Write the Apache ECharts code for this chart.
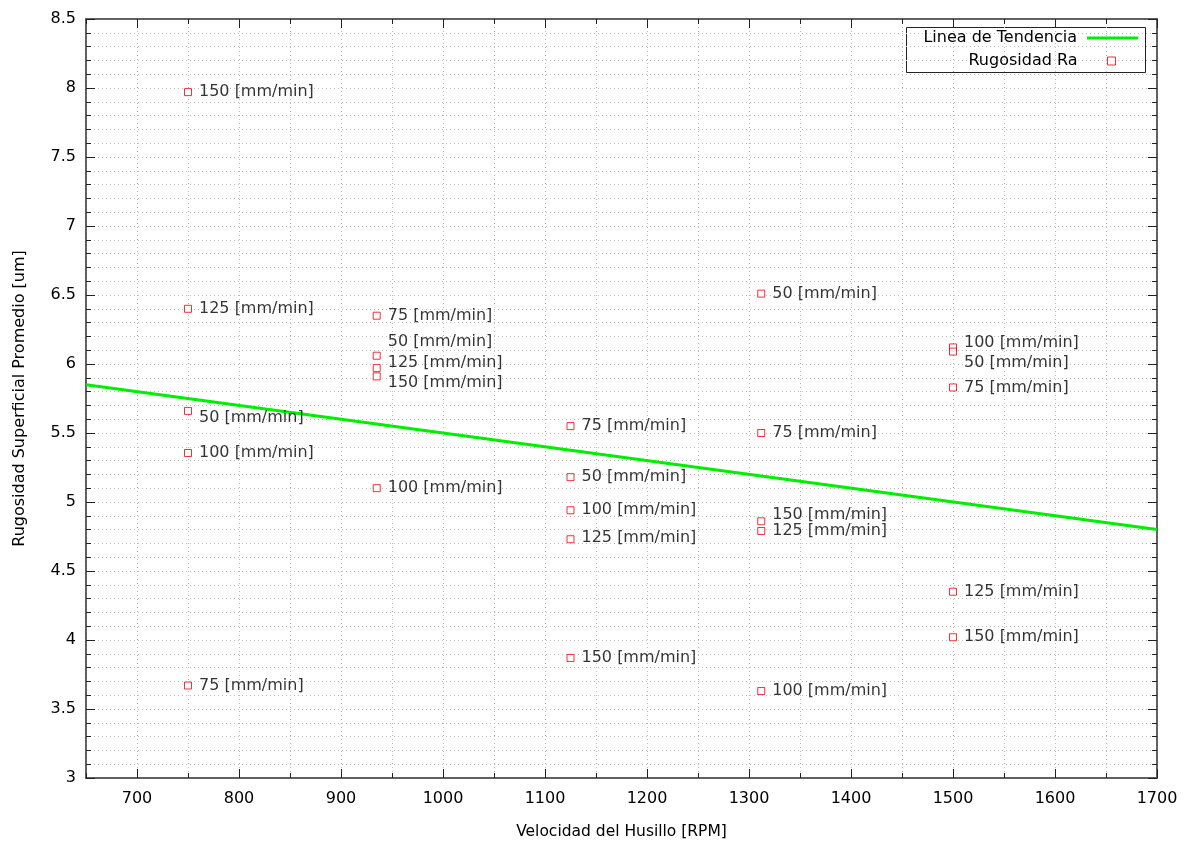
<!DOCTYPE html>
<html>
<head>
<meta charset="utf-8">
<script src="https://cdn.jsdelivr.net/npm/echarts@6/dist/echarts.min.js"></script>
<style>
  html, body { margin: 0; padding: 0; background: #fff; }
  #chart { width: 1189px; height: 843px; }
</style>
</head>
<body>
<div id="chart"></div>
<script>
// Spindle speed [RPM] for each measured specimen
const speedRpm = [
  750, 750, 750, 750, 750,
  935, 935, 935, 935, 935,
  1125, 1125, 1125, 1125, 1125,
  1312, 1312, 1312, 1312, 1312,
  1500, 1500, 1500, 1500, 1500
];
// Feed rate [mm/min] used for each specimen
const feedRate = [
  150, 125, 50, 100, 75,
  75, 50, 125, 150, 100,
  75, 50, 100, 125, 150,
  50, 75, 150, 125, 100,
  100, 50, 75, 125, 150
];
// Average surface roughness Ra [um]
const roughnessRa = [
  7.97, 6.40, 5.66, 5.355, 3.67,
  6.35, 6.06, 5.97, 5.91, 5.10,
  5.55, 5.18, 4.94, 4.73, 3.87,
  6.51, 5.50, 4.86, 4.79, 3.63,
  6.12, 6.09, 5.83, 4.35, 4.02
];
// Vertical nudge (px) of each feed-rate label so crowded labels don't overlap
const labelNudge = [
  0, 0, 7, 0, 0,
  0, -14, -5, 6, 0,
  0, 0, 0, -1, 0,
  0, 0, -6, 0, 0,
  -5, 11, 0, 0, 0
];
// Trend line end points [RPM, Ra]
const trendX = [650, 1700];
const trendY = [5.85, 4.80];

// Axis ranges and tick labels
const xRange = [650, 1700];
const xMajorTicks = [700, 800, 900, 1000, 1100, 1200, 1300, 1400, 1500, 1600, 1700];
const yRange = [3, 8.5];

const FONT = 'DejaVu Sans';
const TEXT = '#000000';
const AXIS = '#555555';
const TICK = '#222222';

const scatterData = speedRpm.map((x, i) => ({
  value: [x, roughnessRa[i]],
  feed: feedRate[i],
  label: { offset: [0, labelNudge[i]] }
}));
const trendData = trendX.map((x, i) => [x, trendY[i]]);

const gridLine = { show: true, lineStyle: { color: '#bdbdbd', type: [1, 3], width: 1 } };

// x axes: one carries the 50-RPM short ticks, grid and labels; a twin carries the long 100-RPM ticks
function xAxisCfg(pos, main, major) {
  const labelled = main && pos === 'bottom';
  return {
    type: 'value', position: pos,
    min: xRange[0], max: xRange[1], interval: 50,
    axisLine: { show: main, onZero: false, lineStyle: { color: AXIS, width: 1.5 } },
    axisTick: major
      ? { show: true, inside: true, length: 9, customValues: xMajorTicks, lineStyle: { color: TICK } }
      : { show: true, inside: true, length: 5, lineStyle: { color: TICK } },
    axisLabel: labelled ? {
      show: true, color: TEXT, fontFamily: FONT, fontSize: 16, margin: 13,
      customValues: xMajorTicks,
      formatter: v => String(v)
    } : { show: false },
    splitLine: labelled ? gridLine : { show: false },
    name: labelled ? 'Velocidad del Husillo [RPM]' : '',
    nameLocation: 'middle', nameGap: 46,
    nameTextStyle: { color: TEXT, fontFamily: FONT, fontSize: 15.5 }
  };
}
function yAxisCfg(pos, labels) {
  return {
    type: 'value', position: pos,
    min: yRange[0], max: yRange[1], interval: 0.5,
    axisLine: { show: true, onZero: false, lineStyle: { color: AXIS, width: 1.5 } },
    axisTick: { show: true, inside: true, length: 9, lineStyle: { color: TICK } },
    minorTick: { show: true, splitNumber: 5, length: 5, lineStyle: { color: TICK } },
    axisLabel: labels ? {
      show: true, color: TEXT, fontFamily: FONT, fontSize: 16, margin: 10,
      formatter: v => String(v)
    } : { show: false },
    splitLine: labels ? gridLine : { show: false },
    minorSplitLine: labels ? gridLine : { show: false },
    name: labels ? 'Rugosidad Superficial Promedio [um]' : '',
    nameLocation: 'middle', nameGap: 58,
    nameTextStyle: { color: TEXT, fontFamily: FONT, fontSize: 16 }
  };
}

const chart = echarts.init(document.getElementById('chart'), null, { renderer: 'canvas' });
chart.setOption({
  backgroundColor: '#ffffff',
  animation: false,
  grid: {
    left: 86, right: 32, top: 19, bottom: 65,
    outerBoundsMode: 'none', containLabel: false,
    show: true, borderColor: AXIS, borderWidth: 1.5
  },
  xAxis: [
    xAxisCfg('bottom', true, false),
    xAxisCfg('bottom', false, true),
    xAxisCfg('top', true, false),
    xAxisCfg('top', false, true)
  ],
  yAxis: [yAxisCfg('left', true), yAxisCfg('right', false)],
  legend: [
    {
      data: [{
        name: 'Linea de Tendencia',
        icon: 'path://M0,0H50V3H0Z',
        itemStyle: { color: '#00ee00' }
      }],
      right: 51, top: 30, padding: 0,
      align: 'right', itemWidth: 51, itemHeight: 14,
      textStyle: { color: TEXT, fontFamily: FONT, fontSize: 16, padding: [0, 5, 0, 0] }
    },
    {
      data: [{
        name: 'Rugosidad Ra',
        icon: 'rect',
        itemStyle: { color: '#ffffff', borderColor: '#e8000b', borderWidth: 1 }
      }],
      right: 73, top: 53, padding: 0,
      align: 'right', itemWidth: 8, itemHeight: 8,
      textStyle: { color: TEXT, fontFamily: FONT, fontSize: 16, padding: [0, 25, 0, 0] }
    }
  ],
  graphic: [{
    type: 'rect', left: 906, top: 27, z: 0,
    shape: { width: 239, height: 45 },
    style: { fill: '#ffffff', stroke: '#222', lineWidth: 1 }
  }],
  series: [
    {
      name: 'Linea de Tendencia', type: 'line', data: trendData,
      symbol: 'none', lineStyle: { color: '#00ee00', width: 3 },
      itemStyle: { color: '#00ee00' }, z: 3
    },
    {
      name: 'Rugosidad Ra', type: 'scatter', data: scatterData,
      symbol: 'rect', symbolSize: 7,
      itemStyle: { color: '#ffffff', borderColor: '#e8000b', borderWidth: 1 },
      label: {
        show: true, position: 'right', distance: 7,
        color: TEXT, fontFamily: FONT, fontSize: 16,
        formatter: p => p.data.feed + ' [mm/min]'
      },
      z: 4
    }
  ]
});
</script>
</body>
</html>
